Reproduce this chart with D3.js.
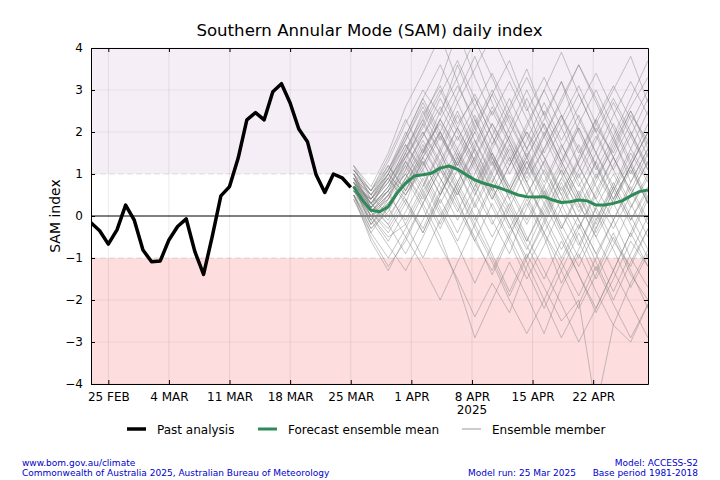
<!DOCTYPE html>
<html>
<head>
<meta charset="utf-8">
<script src="https://cdn.jsdelivr.net/npm/d3@7"></script>
<style>
  body { margin: 0; background: #fff; }
  svg { font-family: "DejaVu Sans", sans-serif; }
</style>
</head>
<body>
<div class="sam-plot"></div>
<script>
// past analysis, one value per day from 23 Feb 2025
const pastStart = new Date(2025, 1, 23);
const pastValues = [-0.16, -0.35, -0.67, -0.33, 0.26, -0.10, -0.81, -1.09, -1.07, -0.57,
  -0.25, -0.07, -0.85, -1.39, -0.49, 0.48, 0.70, 1.38, 2.29, 2.46,
  2.29, 2.96, 3.15, 2.69, 2.07, 1.77, 0.98, 0.56, 1.00, 0.91, 0.68];

// forecast ensemble mean, one value per day from model run 25 Mar 2025
const fcStart = new Date(2025, 2, 25, 8);
const meanValues = [0.70, 0.38, 0.14, 0.10, 0.22, 0.54, 0.78, 0.95, 0.98, 1.02,
  1.14, 1.19, 1.11, 0.98, 0.86, 0.78, 0.72, 0.66, 0.58, 0.50,
  0.46, 0.45, 0.46, 0.38, 0.32, 0.34, 0.38, 0.36, 0.26, 0.26,
  0.30, 0.36, 0.48, 0.58, 0.62];

// ensemble members, one value every 2 days from the model run
const memberStep = 2;
const members = [
  [0.9, 0.3, 0.8, 1.6, 2.4, 3.1, 2.2, 2.8, 1.9, 1.2, 2.0, 1.4, 0.6, 1.3, 2.1, 1.5, 2.4, 1.8],
  [0.6, 0.0, -0.5, -0.2, 0.6, 1.2, 0.4, -0.6, -1.3, -0.4, 0.3, -0.5, -1.6, -0.8, 0.2, -0.6, -1.2, -0.3],
  [1.1, 0.6, 1.3, 2.2, 3.0, 2.4, 3.6, 2.6, 1.7, 2.5, 1.6, 2.3, 3.2, 2.0, 1.1, 1.9, 0.8, 1.6],
  [0.5, -0.3, 0.1, 0.9, 0.2, -0.7, -1.5, -2.4, -1.6, -2.3, -1.2, -0.4, -1.3, -2.2, -1.4, -0.5, -1.4, -2.0],
  [0.8, 0.2, 0.6, 1.0, 1.8, 1.1, 0.5, 1.4, 2.2, 1.5, 0.7, 0.0, 0.9, 1.7, 0.9, 1.6, 2.5, 1.7],
  [0.7, 0.1, -0.4, 0.3, 1.4, 2.0, 2.9, 3.8, 2.7, 1.8, 0.9, 1.6, 2.4, 1.2, 0.4, -0.3, 0.5, 1.3],
  [1.0, 0.4, 0.9, 0.4, -0.3, 0.6, 1.5, 0.8, -0.1, -0.9, 0.2, 1.1, 0.3, -0.6, -1.5, -0.7, 0.2, 0.9],
  [0.4, -0.5, -1.2, -0.6, 0.3, -0.5, -1.6, -2.9, -2.0, -1.1, -1.9, -2.8, -1.7, -0.9, -1.8, -2.6, -1.6, -0.8],
  [1.2, 0.7, 1.5, 2.6, 3.4, 4.3, 3.2, 2.1, 2.9, 3.7, 2.6, 1.5, 2.3, 3.1, 2.2, 3.0, 3.8, 2.7],
  [0.6, 0.1, 0.4, 1.2, 0.5, 1.3, 0.6, -0.2, 0.7, 0.0, -0.8, 0.1, 0.9, 0.2, 1.0, 0.3, -0.5, 0.4],
  [0.9, 0.5, 1.1, 1.8, 2.7, 1.9, 1.1, 1.8, 0.9, 0.1, -0.7, -1.5, -0.6, -1.4, -2.3, -1.5, -0.6, -1.2],
  [0.5, -0.2, 0.3, 0.8, 1.5, 2.3, 1.6, 0.8, 1.7, 2.6, 3.5, 2.4, 1.5, 0.7, 1.5, 0.6, 1.3, 2.2],
  [0.8, 0.3, -0.1, 0.7, 1.6, 0.9, 0.2, -0.6, 0.3, -0.5, 0.4, -0.4, -1.1, -0.3, 0.5, 1.4, 0.6, -0.2],
  [1.0, 0.2, 0.7, 1.4, 2.1, 2.9, 3.7, 2.8, 1.9, 1.0, 1.8, 2.7, 1.8, 2.6, 3.4, 2.5, 1.6, 0.9],
  [0.7, -0.1, -0.7, -1.3, -0.5, 0.4, -0.4, 0.5, 1.3, 0.4, -0.5, -1.3, -2.1, -3.0, -2.2, -1.3, -2.1, -2.9],
  [0.6, 0.4, 1.0, 0.5, 1.2, 2.0, 1.2, 2.2, 3.0, 2.2, 1.4, 2.2, 1.3, 0.5, -0.3, 0.6, 1.5, 0.8],
  [0.9, 0.0, 0.5, 1.3, 0.6, -0.2, 0.7, 1.6, 0.8, 1.7, 0.8, -0.1, -1.0, -0.2, -1.1, -2.0, -1.1, -0.3],
  [0.4, -0.4, 0.2, 1.1, 2.0, 1.2, 2.1, 1.3, 0.4, 1.2, 2.1, 3.0, 3.9, 2.9, 2.0, 1.1, 1.9, 2.8],
  [1.1, 0.5, 0.0, 0.6, 1.3, 0.5, 1.4, 2.3, 1.4, 0.5, 1.3, 0.4, 1.2, 2.1, 1.2, 0.3, 1.1, 0.3],
  [0.7, 0.1, 0.6, -0.2, -1.0, -0.1, 0.8, 0.0, -0.9, -1.8, -0.9, -1.7, -2.5, -2.0, -4.6, -2.6, -3.0, -2.1],
  [0.8, 0.2, 1.0, 1.9, 2.8, 3.6, 2.7, 1.8, 1.0, 0.2, 1.1, 1.9, 1.0, 0.1, 0.9, 1.8, 2.6, 3.3],
  [0.5, -0.6, -1.3, -0.5, -1.2, -2.0, -1.1, -0.2, -1.0, -1.9, -1.0, -0.1, 0.8, -0.1, -0.9, -0.1, 0.7, -0.1],
  [1.0, 0.6, 1.2, 0.6, 1.5, 2.5, 3.3, 4.2, 3.3, 2.3, 1.4, 0.5, 1.3, 2.2, 3.0, 2.1, 1.2, 2.0],
  [0.6, 0.0, 0.4, 1.0, 0.3, 1.1, 1.9, 1.1, 0.2, -0.6, -1.5, -0.7, 0.2, 1.0, 0.1, -0.8, -1.7, -0.9],
  [0.9, 0.3, 0.9, 1.7, 1.0, 0.2, -0.6, 0.3, 1.1, 1.9, 2.8, 1.9, 2.7, 3.6, 2.8, 1.9, 2.8, 3.7],
  [0.7, -0.2, 0.4, 1.3, 2.2, 1.5, 0.6, -0.3, -1.1, -2.0, -2.8, -2.0, -1.1, -1.9, -1.0, -0.1, -1.0, -1.7],
  [1.2, 0.4, 0.8, 1.5, 2.3, 3.2, 4.4, 3.3, 2.4, 3.2, 2.3, 1.4, 0.5, 1.4, 2.3, 3.1, 2.3, 1.4],
  [0.5, 0.1, -0.3, 0.4, -0.4, 0.5, 1.3, 0.5, 1.4, 0.6, 1.4, 0.6, -0.3, 0.6, -0.2, 0.7, -0.1, 0.6],
  [0.8, 0.4, 1.1, 2.0, 1.2, 2.0, 1.1, 0.3, -0.5, 0.3, -0.6, 0.2, 1.1, 0.3, -0.5, -1.3, -0.4, 0.5],
  [0.6, -0.1, 0.5, 1.1, 1.9, 2.6, 1.8, 2.6, 3.4, 2.5, 3.3, 2.4, 3.2, 2.3, 1.5, 2.4, 3.2, 2.4],
  [1.0, 0.3, -0.2, -0.9, -0.1, 0.8, 1.6, 2.4, 1.5, 0.7, -0.1, 0.7, -0.2, -1.0, -0.1, 0.8, 0.0, -0.8],
  [0.7, 0.2, 0.7, 1.5, 2.5, 1.6, 0.8, 1.6, 2.5, 1.7, 0.8, 1.6, 2.4, 1.6, 0.7, -0.1, 0.8, 1.6],
  [0.9, 0.1, 0.5, -0.1, 0.7, 1.6, 2.5, 1.6, 0.7, -0.2, -1.1, -2.0, -2.9, -2.1, -1.2, -2.1, -2.9, -2.1],
  [0.5, -0.3, 0.2, 0.9, 1.7, 0.9, 0.1, 1.0, 1.9, 2.8, 1.9, 1.0, 0.1, -0.7, 0.2, 1.0, 0.2, 1.0],
  [1.1, 0.5, 1.0, 1.8, 2.6, 1.8, 2.7, 3.5, 4.3, 3.4, 2.5, 3.3, 2.4, 1.5, 2.3, 1.4, 2.2, 3.0],
  [0.8, 0.0, -0.6, 0.1, 0.9, 0.1, -0.7, -1.6, -0.7, 0.2, -0.6, 0.3, -0.5, -1.4, -2.2, -1.3, -0.4, -1.2],
  [0.8, 0.4, 0.9, 1.4, 2.0, 1.3, 2.1, 2.9, 2.1, 1.3, 2.2, 3.0, 2.1, 1.2, 0.4, 1.2, 2.0, 1.2],
  [0.6, 0.2, 0.7, 1.3, 0.7, 1.5, 2.4, 1.5, 0.6, 1.4, 0.5, -0.4, 0.4, 1.3, 2.2, 1.4, 0.5, 1.3],
  [1.0, 0.5, 1.0, 1.7, 1.1, 0.3, 1.1, 0.2, 1.0, 1.9, 1.1, 2.0, 1.2, 0.4, 1.3, 2.2, 1.3, 0.4],
  [0.7, 0.0, 0.3, 0.9, 1.6, 2.2, 1.4, 0.6, 1.5, 0.7, 1.6, 2.5, 1.7, 0.8, -0.1, 0.7, 1.6, 2.5],
  [0.9, 0.3, 0.6, 1.2, 1.9, 2.8, 2.0, 1.2, 0.4, 1.2, 2.0, 1.2, 0.3, 1.1, 1.9, 1.1, 0.3, -0.5],
  [0.5, -0.1, 0.3, 0.8, 1.4, 0.7, -0.1, 0.7, 1.5, 0.6, 1.4, 2.2, 1.3, 2.1, 1.2, 0.4, 1.2, 2.0],
  [1.1, 0.6, 1.4, 2.3, 1.5, 2.3, 1.5, 0.7, 1.6, 2.4, 1.6, 0.8, 1.7, 0.9, 1.8, 2.7, 1.9, 1.1],
  [0.8, 0.1, 0.5, 1.0, 0.4, 1.2, 0.5, 1.3, 0.5, -0.3, 0.5, 1.3, 0.5, -0.3, 0.6, 1.4, 0.6, 1.5],
  [0.6, 0.3, 0.8, 1.6, 2.3, 1.5, 0.7, -0.1, 0.8, 1.6, 0.8, 0.0, -0.8, 0.0, 0.8, 1.7, 2.5, 1.6],
  [0.9, 0.2, -0.2, 0.5, 1.1, 1.9, 1.2, 2.0, 1.2, 2.1, 3.0, 2.1, 1.3, 0.5, 1.3, 0.4, 1.2, 0.3],
  [0.7, 0.4, 1.0, 0.5, 1.3, 0.5, 1.4, 0.6, -0.2, 0.6, 1.5, 0.7, 1.6, 2.4, 1.5, 0.7, -0.1, 0.7],
  [1.0, 0.2, 0.6, 1.5, 0.8, 0.0, 0.8, 1.7, 2.6, 1.8, 1.0, 1.9, 2.8, 3.6, 2.7, 1.8, 1.0, 1.8],
  [0.5, -0.4, -1.0, -0.3, 0.5, -0.3, 0.6, 1.4, 0.6, -0.2, -1.0, -0.2, 0.7, -0.1, -0.9, -1.8, -0.9, 0.0],
  [0.8, 0.3, 0.9, 0.3, -0.4, 0.5, 1.3, 2.1, 1.3, 0.4, 1.3, 0.5, -0.4, -1.2, -0.3, 0.6, -0.2, -1.0],
  [0.6, 0.1, 0.6, 1.4, 2.2, 3.0, 2.1, 1.3, 2.2, 1.4, 0.5, 1.3, 2.1, 2.9, 2.0, 2.8, 2.0, 1.1],
  [0.9, 0.5, 1.2, 0.6, 1.4, 2.3, 3.1, 2.3, 1.4, 0.6, -0.2, 0.6, -0.3, 0.5, -0.4, 0.4, 1.2, 0.3],
  [0.7, -0.2, 0.2, -0.5, 0.3, 1.1, 0.3, -0.5, -1.4, -0.5, -1.3, -2.2, -1.3, -0.4, -1.3, -0.4, -1.3, -2.2],
  [1.2, 0.6, 1.1, 1.9, 2.8, 2.0, 1.2, 2.0, 2.9, 2.0, 1.1, 0.3, 1.1, 0.3, -0.5, 0.3, 1.2, 2.0]
];

const yTicks = [-4, -3, -2, -1, 0, 1, 2, 3, 4];
const xTickDates = [new Date(2025,1,25), new Date(2025,2,4), new Date(2025,2,11), new Date(2025,2,18),
  new Date(2025,2,25), new Date(2025,3,1), new Date(2025,3,8), new Date(2025,3,15), new Date(2025,3,22)];
const monthNames = ['JAN','FEB','MAR','APR','MAY','JUN','JUL','AUG','SEP','OCT','NOV','DEC'];

const day = 24 * 3600 * 1000;
const past = pastValues.map((v, i) => ({date: new Date(pastStart.getTime() + i * day), value: v}));
const mean = meanValues.map((v, i) => ({date: new Date(fcStart.getTime() + i * day), value: v}));
const ens = members.map(m => m.map((v, i) => ({date: new Date(fcStart.getTime() + i * memberStep * day), value: v})));

const width = 720;
const height = 480;
const margin = {left: 91, right: 72, top: 48, bottom: 96};

const svg = d3.select('.sam-plot')
  .append('svg')
  .attr('width', width)
  .attr('height', height)

const x = d3.scaleTime()
  .domain([pastStart, mean[mean.length - 1].date])
  .range([margin.left, width - margin.right]);
const y = d3.scaleLinear()
  .domain([-4, 4])
  .range([height - margin.bottom, margin.top]);

svg.append('defs').append('clipPath').attr('id', 'clip')
  .append('rect')
  .attr('x', x.range()[0]).attr('y', y(4))
  .attr('width', x.range()[1] - x.range()[0])
  .attr('height', y(-4) - y(4));

// shaded bands above +1 and below -1
const bands = [{from: 1, to: 4, color: '#f5eef6'}, {from: -4, to: -1, color: '#fddddd'}];
svg.selectAll('rect.band')
  .data(bands)
  .enter()
  .append('rect')
  .attr('class', 'band')
  .attr('x', x.range()[0])
  .attr('width', x.range()[1] - x.range()[0])
  .attr('y', d => y(d.to))
  .attr('height', d => y(d.from) - y(d.to))
  .attr('fill', d => d.color);

// grid
svg.selectAll('line.vgrid')
  .data(xTickDates)
  .enter()
  .append('line')
  .attr('x1', d => x(d)).attr('x2', d => x(d))
  .attr('y1', y(4)).attr('y2', y(-4))
  .attr('stroke', '#000').attr('stroke-opacity', 0.08).attr('stroke-width', 1);
svg.selectAll('line.hgrid')
  .data(yTicks.filter(d => d != 0 && Math.abs(d) != 1))
  .enter()
  .append('line')
  .attr('x1', x.range()[0]).attr('x2', x.range()[1])
  .attr('y1', d => y(d)).attr('y2', d => y(d))
  .attr('stroke', '#000').attr('stroke-opacity', 0.06).attr('stroke-width', 1);
svg.selectAll('line.dash')
  .data([-1, 1])
  .enter()
  .append('line')
  .attr('x1', x.range()[0]).attr('x2', x.range()[1])
  .attr('y1', d => y(d)).attr('y2', d => y(d))
  .attr('stroke', '#000').attr('stroke-opacity', 0.12)
  .attr('stroke-dasharray', '6,3');
svg.append('line')
  .attr('x1', x.range()[0]).attr('x2', x.range()[1])
  .attr('y1', y(0)).attr('y2', y(0))
  .attr('stroke', '#000').attr('stroke-width', 1);

const line = d3.line().x(d => x(d.date)).y(d => y(d.value));

const plot = svg.append('g').attr('clip-path', 'url(#clip)');

plot.selectAll('path.member')
  .data(ens)
  .enter()
  .append('path')
  .attr('d', line)
  .attr('fill', 'none')
  .attr('stroke', '#808080')
  .attr('stroke-opacity', 0.5)
  .attr('stroke-width', 0.9);

plot.append('path')
  .datum(past)
  .attr('d', line)
  .attr('fill', 'none')
  .attr('stroke', '#000')
  .attr('stroke-width', 3.5)
  .attr('stroke-linejoin', 'round');

plot.append('path')
  .datum(mean)
  .attr('d', line)
  .attr('fill', 'none')
  .attr('stroke', '#2e8b57')
  .attr('stroke-width', 3)
  .attr('stroke-linejoin', 'round');

// frame with inward ticks on every side
const fmt = d => d.getDate() + ' ' + monthNames[d.getMonth()];
svg.append('g')
  .attr('transform', `translate(0,${y(-4)})`)
  .call(d3.axisBottom(x).tickValues(xTickDates).tickFormat(fmt).tickSizeInner(-4).tickSizeOuter(0).tickPadding(8))
  .call(g => g.selectAll('text').attr('font-size', 12).attr('fill', '#000').attr('font-family', 'DejaVu Sans'));
svg.append('g')
  .attr('transform', `translate(0,${y(4)})`)
  .call(d3.axisTop(x).tickValues(xTickDates).tickFormat('').tickSizeInner(-4).tickSizeOuter(0));
svg.append('g')
  .attr('transform', `translate(${x.range()[0]},0)`)
  .call(d3.axisLeft(y).tickValues(yTicks).tickFormat(d => d < 0 ? '\u2212' + Math.abs(d) : d).tickSizeInner(-4).tickSizeOuter(0).tickPadding(8))
  .call(g => g.selectAll('text').attr('font-size', 12).attr('fill', '#000').attr('font-family', 'DejaVu Sans'));
svg.append('g')
  .attr('transform', `translate(${x.range()[1]},0)`)
  .call(d3.axisRight(y).tickValues(yTicks).tickFormat('').tickSizeInner(-4).tickSizeOuter(0));
svg.selectAll('.domain').attr('stroke', '#000');

svg.append('text')
  .attr('x', x(new Date(2025,3,8)))
  .attr('y', 414)
  .attr('text-anchor', 'middle')
  .attr('font-size', 12)
  .text('2025');

svg.append('text')
  .attr('x', (x.range()[0] + x.range()[1]) / 2)
  .attr('y', 36)
  .attr('text-anchor', 'middle')
  .attr('font-size', 16.6)
  .text('Southern Annular Mode (SAM) daily index');

svg.append('text')
  .attr('transform', `translate(60,${y(0)}) rotate(-90)`)
  .attr('text-anchor', 'middle')
  .attr('font-size', 14)
  .text('SAM index');

// legend
const legend = [
  {label: 'Past analysis', color: '#000', w: 3.5, x: 127},
  {label: 'Forecast ensemble mean', color: '#2e8b57', w: 3, x: 258},
  {label: 'Ensemble member', color: '#999', w: 1, x: 462}
];
const lg = svg.selectAll('g.legend')
  .data(legend)
  .enter()
  .append('g')
  .attr('transform', d => `translate(${d.x},429)`);
lg.append('line')
  .attr('x1', 0).attr('x2', 19)
  .attr('stroke', d => d.color)
  .attr('stroke-width', d => d.w);
lg.append('text')
  .attr('x', 30)
  .attr('y', 4.5)
  .attr('font-size', 12)
  .text(d => d.label);

// footer
const footLeft = ['www.bom.gov.au/climate', 'Commonwealth of Australia 2025, Australian Bureau of Meteorology'];
const footRight = ['Model: ACCESS-S2', 'Base period 1981-2018'];
svg.selectAll('text.fl')
  .data(footLeft)
  .enter()
  .append('text')
  .attr('x', 22)
  .attr('y', (d, i) => 466 + i * 9.5)
  .attr('font-size', 9)
  .attr('fill', '#0000cc')
  .text(d => d);
svg.selectAll('text.fr')
  .data(footRight)
  .enter()
  .append('text')
  .attr('x', 698)
  .attr('y', (d, i) => 466 + i * 9.5)
  .attr('text-anchor', 'end')
  .attr('font-size', 9)
  .attr('fill', '#0000cc')
  .text(d => d);
svg.append('text')
  .attr('x', 576)
  .attr('y', 475.5)
  .attr('text-anchor', 'end')
  .attr('font-size', 9)
  .attr('fill', '#0000cc')
  .text('Model run: 25 Mar 2025');
</script>
</body>
</html>
